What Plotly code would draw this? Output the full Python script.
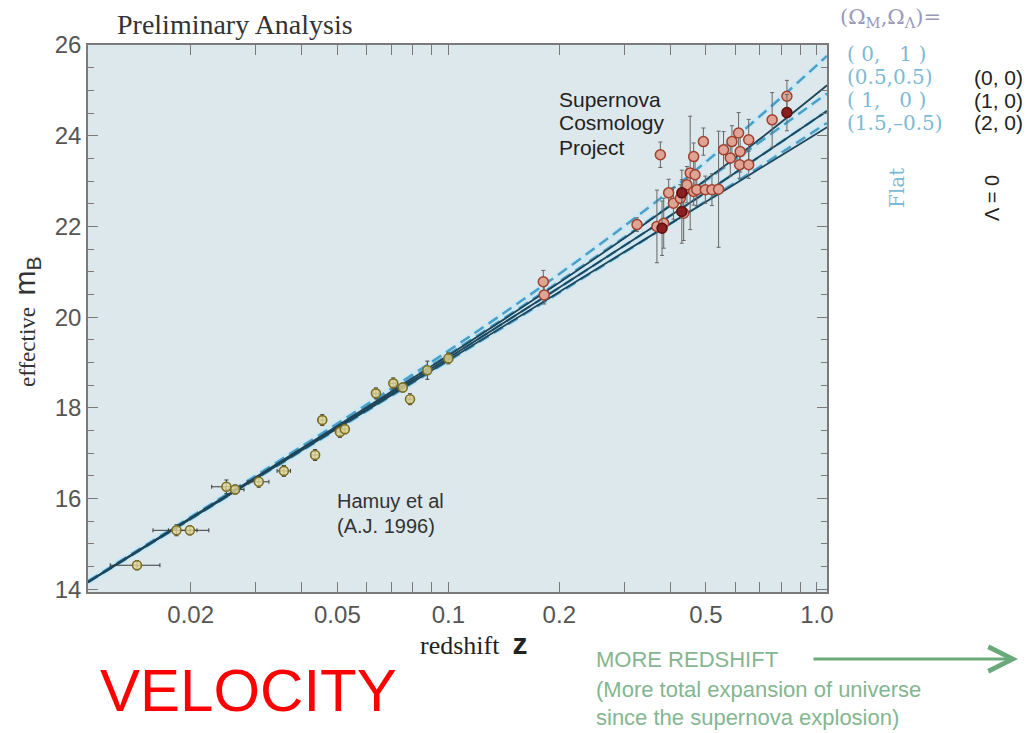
import plotly.graph_objects as go

# ---------------- data ----------------
# model curves (Omega_M, Omega_Lambda)
z_model = [0.01053, 0.03, 0.1, 0.2, 0.35, 0.5, 0.7, 1.0, 1.065]
m_00 = [14.167, 16.468, 19.156, 20.762, 22.121, 23.029, 23.927, 24.930, 25.114]
m_10 = [14.162, 16.452, 19.101, 20.652, 21.927, 22.754, 23.545, 24.394, 24.545]
m_20 = [14.156, 16.436, 19.050, 20.555, 21.770, 22.545, 23.275, 24.050, 24.187]
m_01 = [14.179, 16.500, 19.257, 20.951, 22.422, 23.425, 24.428, 25.555, 25.761]
m_0505 = [14.170, 16.476, 19.175, 20.786, 22.134, 23.016, 23.862, 24.770, 24.931]
m_15m05 = [14.153, 16.427, 19.034, 20.538, 21.764, 22.557, 23.317, 24.136, 24.282]

# Hamuy et al low-redshift supernovae
lowz_z = [0.0143, 0.0183, 0.0199, 0.0250, 0.0264, 0.0306, 0.0358, 0.0435, 0.0455,
          0.0508, 0.0524, 0.0636, 0.0709, 0.0752, 0.0787, 0.0877, 0.1000]
lowz_m = [14.53, 15.30, 15.30, 16.26, 16.20, 16.37, 16.61, 16.96, 17.73,
          17.47, 17.53, 18.32, 18.54, 18.45, 18.19, 18.83, 19.09]
lowz_dm = [0.10, 0.12, 0.10, 0.15, 0.10, 0.12, 0.12, 0.12, 0.12,
           0.12, 0.10, 0.12, 0.12, 0.10, 0.12, 0.20, 0.12]
lowz_dz = [0.0022, 0.0025, 0.0025, 0.0022, 0.0015, 0.0020, 0.0015, 0.0012, 0.0012,
           0.0010, 0.0010, 0.0010, 0.0012, 0.0010, 0.0010, 0.0010, 0.0010]

# Supernova Cosmology Project high-redshift supernovae
hiz_z = [0.181, 0.182, 0.325, 0.376, 0.368, 0.384, 0.396, 0.408, 0.426, 0.435,
         0.444, 0.453, 0.467, 0.463, 0.463, 0.472, 0.492, 0.498, 0.519, 0.541,
         0.558, 0.582, 0.588, 0.613, 0.619, 0.617, 0.653, 0.653, 0.756, 0.829]
hiz_m = [20.78, 20.49, 22.04, 23.58, 22.00, 22.07, 22.74, 22.51, 22.62, 22.29,
         22.92, 23.18, 23.14, 23.54, 22.77, 22.81, 23.87, 22.81, 22.81, 22.82,
         23.69, 23.51, 23.87, 24.06, 23.65, 23.36, 23.91, 23.36, 24.35, 24.87]
hiz_dm = [0.25, 0.20, 0.15, 0.28, 0.80, 0.55, 0.30, 0.35, 0.30, 0.60,
          0.40, 1.25, 0.30, 0.30, 0.30, 0.35, 0.30, 0.30, 0.35, 1.28,
          0.40, 0.40, 0.35, 0.45, 0.45, 0.30, 0.45, 0.30, 0.60, 0.35]
dark_z = [0.380, 0.430, 0.430, 0.829]
dark_m = [21.96, 22.74, 22.33, 24.51]
dark_dm = [0.60, 0.50, 0.70, 0.40]

x_major = [0.02, 0.05, 0.1, 0.2, 0.5, 1.0]
x_major_text = ["0.02", "0.05", "0.1", "0.2", "0.5", "1.0"]
x_minor = [0.03, 0.04, 0.06, 0.07, 0.08, 0.09, 0.3, 0.4, 0.6, 0.7, 0.8, 0.9]
y_tickvals = [14, 16, 18, 20, 22, 24, 26]

# ---------------- figure ----------------
W, H = 1034, 733
L, R, T, B = 88, 827, 45, 592


def P(x, y):
    return (x - L) / (R - L), (B - y) / (B - T)


SOLID = "#1f4558"
DASH = "#4a9fc8"
fig = go.Figure()

flat = [m_01, m_0505, m_10, m_15m05]
open_ = [m_00, m_10, m_20]
for m in flat:
    fig.add_trace(go.Scatter(x=z_model, y=m, mode="lines", line_shape="spline",
                             line=dict(color="rgba(205,232,243,0.9)", width=6),
                             hoverinfo="skip"))
for m in flat:
    fig.add_trace(go.Scatter(x=z_model, y=m, mode="lines", line_shape="spline",
                             line=dict(color=DASH, width=2.5, dash="11px,6px")))
for m in open_:
    fig.add_trace(go.Scatter(x=z_model, y=m, mode="lines", line_shape="spline",
                             line=dict(color=SOLID, width=1.8)))

fig.add_trace(go.Scatter(
    x=lowz_z, y=lowz_m, mode="markers",
    error_y=dict(type="data", array=lowz_dm, color="#3a3a3a", thickness=1, width=2),
    error_x=dict(type="data", array=lowz_dz, color="#3a3a3a", thickness=1, width=2),
    marker=dict(symbol="circle", size=9, color="rgba(225,215,150,0.8)",
                line=dict(color="#7d6f22", width=1.6))))

fig.add_trace(go.Scatter(
    x=hiz_z, y=hiz_m, mode="markers",
    error_y=dict(type="data", array=hiz_dm, color="#666", thickness=1, width=2),
    marker=dict(symbol="circle", size=10, color="#dfa493",
                line=dict(color="#a0402f", width=1.5))))
fig.add_trace(go.Scatter(
    x=dark_z, y=dark_m, mode="markers",
    error_y=dict(type="data", array=dark_dm, color="#666", thickness=1, width=2),
    marker=dict(symbol="circle", size=10, color="#8a1f1f",
                line=dict(color="#5e1010", width=1.5))))

axis_col = "#7a7a7a"
fig.update_xaxes(type="log", range=[-1.9776, 0.0273], tickvals=x_major,
                 ticktext=x_major_text, ticks="inside", ticklen=10, tickwidth=1,
                 tickcolor=axis_col, showline=True, linecolor=axis_col, linewidth=1.5,
                 mirror="ticks", showgrid=False, zeroline=False,
                 minor=dict(tickvals=x_minor, ticks="inside", ticklen=10, tickwidth=1,
                            tickcolor=axis_col, showgrid=False),
                 tickfont=dict(family="Liberation Sans", size=24, color="#555"))
fig.update_yaxes(range=[13.94, 26], tickvals=y_tickvals, ticks="inside", ticklen=10,
                 tickwidth=1, tickcolor=axis_col, showline=True, linecolor=axis_col,
                 linewidth=1.5, mirror="ticks", showgrid=False, zeroline=False,
                 minor=dict(dtick=0.5, tick0=14, ticks="inside", ticklen=6,
                            tickcolor=axis_col),
                 tickfont=dict(family="Liberation Sans", size=24, color="#555"))

ann = []


def add_text(text, x, y, size, color, family="Liberation Sans", xanchor="left",
             angle=0, yanchor="middle"):
    px, py = P(x, y)
    ann.append(dict(text=text, x=px, y=py, xref="paper", yref="paper",
                    xanchor=xanchor, yanchor=yanchor, showarrow=False, textangle=angle,
                    font=dict(family=family, size=size, color=color)))


add_text("Preliminary Analysis", 235, 24, 28, "#333", "Liberation Serif", "center")
for t, yy in zip(["Supernova", "Cosmology", "Project"], [99, 123, 147]):
    add_text(t, 557, yy, 21, "#222")
for t, yy in zip(["Hamuy et al", "(A.J. 1996)"], [501, 526]):
    add_text(t, 335, yy, 20, "#333")

ytitle = ('<span style="font-family:Liberation Serif;font-size:23px">effective</span>'
          '&nbsp;&nbsp;<span style="font-family:Liberation Sans;font-size:30px">m<sub>B</sub></span>')
add_text(ytitle, 27, 322, 23, "#333", "Liberation Serif", "center", angle=-90)
xtitle = ('<span style="font-family:Liberation Serif;font-size:26px">redshift</span>'
          '&nbsp;&nbsp;<span style="font-family:Liberation Sans;font-size:30px"><b>z</b></span>')
add_text(xtitle, 473, 643, 26, "#222", "Liberation Serif", "center")

LEG_T = "#9a98b8"
BLUE = "#7cbad6"
add_text("(Ω<sub>M</sub>,Ω<sub>Λ</sub>)=", 838, 18, 21, LEG_T, "DejaVu Serif")
for t, yy in zip(["( 0,&nbsp;&nbsp; 1 )", "(0.5,0.5)", "( 1,&nbsp;&nbsp; 0 )", "(1.5,–0.5)"],
                 [54, 77, 100, 123]):
    add_text(t, 845, yy, 20, BLUE, "DejaVu Serif")
for t, yy in zip(["(0, 0)", "(1, 0)", "(2, 0)"], [77, 100, 123]):
    add_text(t, 972, yy, 21, "#222")
add_text("Flat", 897, 188, 20, BLUE, "DejaVu Serif", "center", angle=-90)
add_text("Λ = 0", 992, 198, 20, "#222", "Liberation Sans", "center", angle=-90)

add_text("VELOCITY", 248, 690, 60, "#ff0000", "Liberation Sans", "center")

GREEN_T = "#84b690"
add_text("MORE REDSHIFT", 594, 659, 22, GREEN_T)
add_text("(More total expansion of universe", 594, 689, 22, GREEN_T)
add_text("since the supernova explosion)", 594, 717, 22, GREEN_T)
ax_, ay_ = P(1018, 659)
ann.append(dict(x=ax_, y=ay_, xref="paper", yref="paper", text="", showarrow=True,
                ax=-206, ay=0, arrowhead=5, arrowsize=1.6, arrowwidth=3,
                arrowcolor="#6aa97a"))

fig.update_layout(width=W, height=H, margin=dict(l=L, r=W - R, t=T, b=H - B),
                  paper_bgcolor="white", plot_bgcolor="#dce8eb", showlegend=False,
                  annotations=ann)

fig.write_html("out.html")
